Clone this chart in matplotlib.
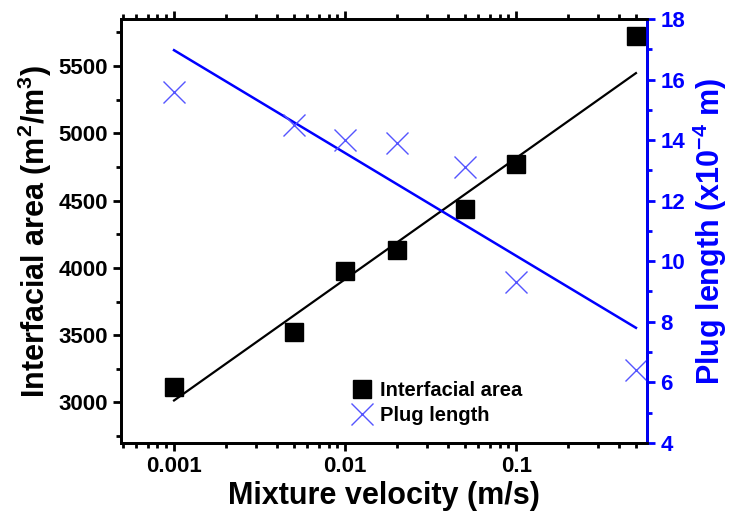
import numpy as np
import matplotlib
matplotlib.use('Agg')
import matplotlib.pyplot as plt
from matplotlib.ticker import FixedLocator, MultipleLocator, LogLocator, NullFormatter, FuncFormatter

plt.rcParams['font.family'] = ['Liberation Sans', 'DejaVu Sans']
plt.rcParams['font.weight'] = 'bold'
plt.rcParams['mathtext.fontset'] = 'custom'
plt.rcParams['mathtext.rm'] = 'Liberation Sans:bold'
plt.rcParams['mathtext.bf'] = 'Liberation Sans:bold'
plt.rcParams['mathtext.default'] = 'bf'

# data
velocity = [0.001, 0.005, 0.01, 0.02, 0.05, 0.1, 0.5]
interfacial_area = [3112, 3521, 3975, 4131, 4436, 4771, 5723]
plug_length = [15.6, 14.5, 14.0, 13.9, 13.1, 9.3, 6.4]

# fitted trend lines (end values)
fit_x = [0.001, 0.5]
fit_area = [3015, 5448]
fit_plug = [16.97, 7.8]

fig = plt.figure(figsize=(7.29, 5.21), dpi=100)
ax = fig.add_axes([0.166, 0.150, 0.7215, 0.8135])
ax2 = ax.twinx()

ax.plot(fit_x, fit_area, color='black', lw=1.6)
ax.plot(velocity, interfacial_area, 's', color='black', ms=13, ls='none', label='Interfacial area')
ax2.plot(fit_x, fit_plug, color='#0000ff', lw=1.8)
ax2.plot(velocity, plug_length, 'x', color='#5555ff', ms=16, mew=1.0, ls='none', label='Plug length')

ax.set_xscale('log')
ax.set_xlim(0.00049, 0.58)
ax.set_ylim(2700, 5850)
ax2.set_ylim(4, 18)

ax.xaxis.set_major_locator(FixedLocator([0.001, 0.01, 0.1]))
ax.xaxis.set_major_formatter(FuncFormatter(lambda v, p: f'{v:g}'))
ax.xaxis.set_minor_locator(LogLocator(base=10, subs=np.arange(2, 10)))
ax.xaxis.set_minor_formatter(NullFormatter())
ax.yaxis.set_major_locator(MultipleLocator(500))
ax.yaxis.set_minor_locator(MultipleLocator(250))
ax2.yaxis.set_major_locator(MultipleLocator(2))
ax2.yaxis.set_minor_locator(MultipleLocator(1))

ax.tick_params(which='both', direction='out', width=2, top=True, labelsize=16)
ax.tick_params(which='major', length=6)
ax.tick_params(which='minor', length=3.5)
ax2.tick_params(which='both', direction='out', width=2, colors='#0000ff', labelsize=16)
ax2.tick_params(which='major', length=6)
ax2.tick_params(which='minor', length=3.5)

for s in ax.spines.values():
    s.set_linewidth(2)
for s in ax2.spines.values():
    s.set_linewidth(2)
ax2.spines['right'].set_color('#0000ff')

ax.set_xlabel('Mixture velocity (m/s)', fontsize=22, fontweight='bold', labelpad=3)
ax.set_ylabel('Interfacial area (m$^2$/m$^3$)', fontsize=22, fontweight='bold', labelpad=3)
ax2.set_ylabel('Plug length (x10$^{-4}$ m)', fontsize=22, fontweight='bold', color='#0000ff', labelpad=4)

h1, l1 = ax.get_legend_handles_labels()
h2, l2 = ax2.get_legend_handles_labels()
ax2.legend(h1 + h2, l1 + l2, loc='lower left', bbox_to_anchor=(0.40, 0.0), frameon=False,
           fontsize=14.5, handletextpad=0.3, labelspacing=0.3, handlelength=1.2)

fig.savefig('out.png', dpi=100)
